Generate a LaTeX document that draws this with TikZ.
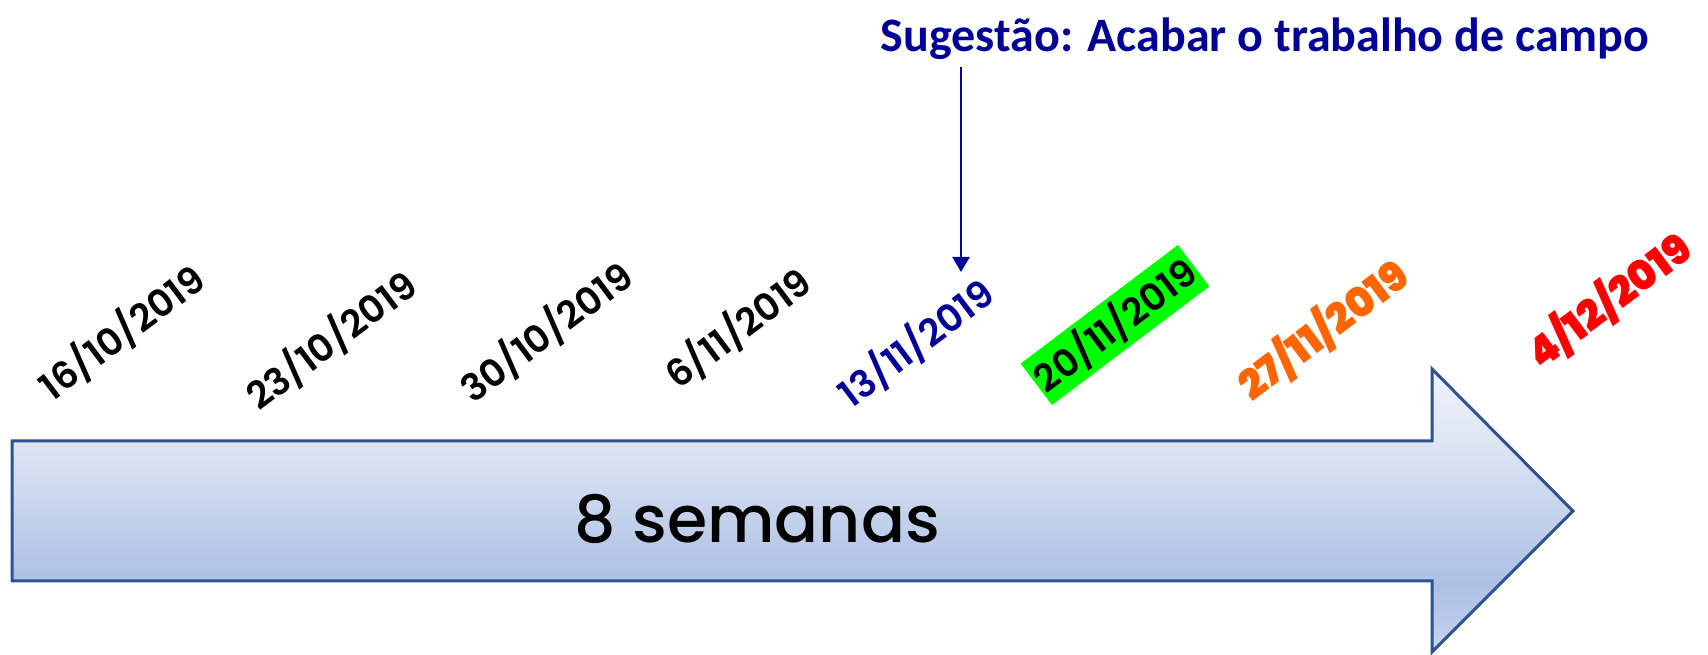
\documentclass[tikz,border=0pt]{standalone}
\usepackage{fontspec}
\usetikzlibrary{arrows.meta}
\IfFontExistsTF{Poppins SemiBold}
  {\newfontfamily\datefont{Poppins SemiBold}}
  {\newfontfamily\datefont{Poppins}[UprightFont=*-Bold]}
\IfFontExistsTF{Poppins Black}
  {\newfontfamily\blackfont{Poppins Black}}
  {\IfFontExistsTF{Poppins ExtraBold}
     {\newfontfamily\blackfont{Poppins ExtraBold}}
     {\newfontfamily\blackfont{Poppins}[UprightFont=*-Bold]}}
\IfFontExistsTF{Poppins Medium}
  {\newfontfamily\weekfont{Poppins Medium}}
  {\newfontfamily\weekfont{Poppins}}
\newfontfamily\sugfont{Carlito}
\definecolor{navy}{RGB}{0,0,153}
\definecolor{arrowline}{RGB}{47,82,143}
\definecolor{dorange}{RGB}{255,102,0}
\definecolor{dred}{RGB}{255,0,0}
\definecolor{dgreen}{RGB}{0,255,0}
\definecolor{sh1}{RGB}{240,243,250}
\definecolor{sh2}{RGB}{220,228,243}
\definecolor{sh3}{RGB}{171,192,228}
\definecolor{sh4}{RGB}{198,212,237}
\pgfdeclareverticalshading{arrowshade}{100bp}{color(0bp)=(sh4); color(25bp)=(sh4); color(37bp)=(sh3); color(61bp)=(sh2); color(75bp)=(sh1); color(100bp)=(sh1)}
\tikzset{
  datelabel/.style={rotate=37, inner sep=2pt, font=\datefont\fontsize{37.5}{40}\selectfont},
  boldlabel/.style={datelabel, font=\blackfont\fontsize{41}{44}\selectfont},
}
\begin{document}
\begin{tikzpicture}[x=1pt,y=1pt]
\useasboundingbox (0,0) rectangle (1708,655);
% big arrow
\draw[line width=3pt, arrowline, shading=arrowshade, line join=miter]
  (12,214) -- (1432,214) -- (1432,286) -- (1573,144) -- (1432,3) -- (1432,74) -- (12,74) -- cycle;
\node[anchor=base, font=\weekfont\fontsize{65}{70}\selectfont] (weeks) at (757,112) {8 semanas};
% dates
\node[datelabel] (d1) at (122,323) {16/10/2019};
\node[datelabel] (d2) at (331,315) {23/10/2019};
\node[datelabel] (d3) at (546,323) {30/10/2019};
\node[datelabel] (d4) at (738,327) {6/11/2019};
\node[datelabel, text=navy] (d5) at (916,312) {13/11/2019};
\node[datelabel, fill=dgreen, minimum width=197pt, minimum height=52pt] (d6) at (1115,330) {20/11/2019};
\node[boldlabel, text=dorange] (d7) at (1323,325) {27/11/2019};
\node[boldlabel, text=dred] (d8) at (1609,355) {4/12/2019};
% suggestion
\node[anchor=base, text=navy, font=\sugfont\bfseries\fontsize{48}{52}\selectfont] (sug) at (1265,603) {Sugestão: Acabar o trabalho de campo};
\coordinate (lineTop) at (961,588);
\coordinate (lineEnd) at (961,383);
\draw[navy, line width=2.5pt, -{Triangle[width=17pt,length=15pt]}] (lineTop) -- (lineEnd);
\end{tikzpicture}
\end{document}
